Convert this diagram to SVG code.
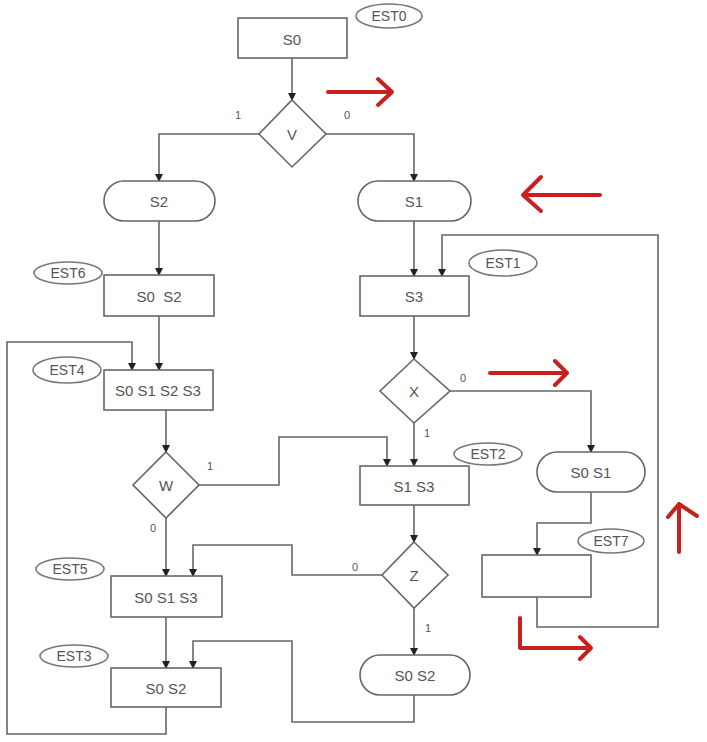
<svg xmlns="http://www.w3.org/2000/svg" width="707" height="742" viewBox="0 0 707 742">
<defs>
<marker id="ah" markerWidth="8" markerHeight="8" refX="7" refY="4" orient="auto" markerUnits="userSpaceOnUse">
<path d="M0,0 L8,4 L0,8 Z" fill="#222"/>
</marker>
<style>
.box{fill:#fff;stroke:#666;stroke-width:1.6}
.est{fill:#fff;stroke:#777;stroke-width:1.6}
.t{font-family:"Liberation Sans",Arial,sans-serif;font-size:15px;fill:#555;text-anchor:middle;dominant-baseline:central}
.e{font-family:"Liberation Sans",Arial,sans-serif;font-size:14px;fill:#555;text-anchor:middle;dominant-baseline:central}
.l{font-family:"Liberation Sans",Arial,sans-serif;font-size:11px;fill:#555;text-anchor:middle;dominant-baseline:central}
.c{fill:none;stroke:#666;stroke-width:1.6}
.a{marker-end:url(#ah)}
.r{fill:none;stroke:#c8201f;stroke-width:4;stroke-linecap:round;stroke-linejoin:round}
</style>
</defs>
<rect width="707" height="742" fill="#fff"/>
<g id="connectors">
<path class="c a" d="M292,58 V100"/>
<path class="c a" d="M259,134 H159 V181"/>
<path class="c a" d="M326,134 H414 V181"/>
<path class="c a" d="M159,221 V275"/>
<path class="c a" d="M159,316 V370"/>
<path class="c a" d="M166,707 V734 H7 V342 H132 V370"/>
<path class="c a" d="M166,410 V452"/>
<path class="c a" d="M199,485 H279 V437 H387 V466"/>
<path class="c a" d="M166,518 V576"/>
<path class="c a" d="M414,221 V276"/>
<path class="c a" d="M414,316 V359"/>
<path class="c a" d="M414,423 V466"/>
<path class="c a" d="M450,391 H591 V452"/>
<path class="c a" d="M591,492 V523 H537 V555"/>
<path class="c a" d="M537,597 V627 H658 V235 H442 V276"/>
<path class="c a" d="M414,505 V542"/>
<path class="c a" d="M382,575 H292 V545 H193 V576"/>
<path class="c a" d="M414,608 V655"/>
<path class="c a" d="M166,617 V668"/>
<path class="c a" d="M414,695 V722 H292 V641 H193 V668"/>
<text class="l" x="238" y="115">1</text>
<text class="l" x="347" y="115">0</text>
<text class="l" x="210" y="466">1</text>
<text class="l" x="153" y="528">0</text>
<text class="l" x="427" y="433">1</text>
<text class="l" x="463" y="378">0</text>
<text class="l" x="355" y="567">0</text>
<text class="l" x="428" y="628">1</text>
</g>
<g id="n_S0"><rect class="box" x="238" y="18" width="109" height="40"/><text class="t" x="292" y="39">S0</text></g>
<g id="n_EST0"><ellipse class="est" cx="389" cy="16" rx="33" ry="12"/><text class="e" x="389" y="16">EST0</text></g>
<g id="n_V"><polygon class="box" points="292,100 326,134 292,167 259,134"/><text class="t" x="292" y="134">V</text></g>
<g id="n_S2"><rect class="box" x="104" y="181" width="111" height="40" rx="20"/><text class="t" x="159" y="201">S2</text></g>
<g id="n_S1"><rect class="box" x="358" y="181" width="113" height="40" rx="20"/><text class="t" x="414" y="201">S1</text></g>
<g id="n_EST6"><ellipse class="est" cx="68" cy="273" rx="34" ry="11"/><text class="e" x="68" y="273">EST6</text></g>
<g id="n_S0S2a"><rect class="box" x="104" y="275" width="110" height="41"/><text class="t" x="159" y="296" xml:space="preserve">S0  S2</text></g>
<g id="n_EST1"><ellipse class="est" cx="503" cy="263" rx="34" ry="13"/><text class="e" x="503" y="263">EST1</text></g>
<g id="n_S3"><rect class="box" x="360" y="276" width="109" height="40"/><text class="t" x="414" y="296">S3</text></g>
<g id="n_EST4"><ellipse class="est" cx="67" cy="370" rx="34" ry="13"/><text class="e" x="67" y="370">EST4</text></g>
<g id="n_S0S1S2S3"><rect class="box" x="104" y="370" width="109" height="40"/><text class="t" x="158" y="390">S0 S1 S2 S3</text></g>
<g id="n_X"><polygon class="box" points="414,359 450,391 414,423 380,391"/><text class="t" x="414" y="391">X</text></g>
<g id="n_W"><polygon class="box" points="166,452 199,485 166,518 133,485"/><text class="t" x="166" y="485">W</text></g>
<g id="n_EST2"><ellipse class="est" cx="488" cy="454" rx="34" ry="11"/><text class="e" x="488" y="454">EST2</text></g>
<g id="n_S1S3"><rect class="box" x="360" y="466" width="109" height="39"/><text class="t" x="414" y="486">S1 S3</text></g>
<g id="n_S0S1"><rect class="box" x="537" y="452" width="108" height="40" rx="20"/><text class="t" x="591" y="472">S0 S1</text></g>
<g id="n_EST7"><ellipse class="est" cx="611" cy="541" rx="33" ry="12"/><text class="e" x="611" y="541">EST7</text></g>
<g id="n_empty"><rect class="box" x="482" y="555" width="109" height="42"/></g>
<g id="n_Z"><polygon class="box" points="414,542 448,575 414,608 382,575"/><text class="t" x="414" y="575">Z</text></g>
<g id="n_EST5"><ellipse class="est" cx="70" cy="569" rx="34" ry="11"/><text class="e" x="70" y="569">EST5</text></g>
<g id="n_S0S1S3"><rect class="box" x="111" y="576" width="111" height="41"/><text class="t" x="166" y="597">S0 S1 S3</text></g>
<g id="n_EST3"><ellipse class="est" cx="74" cy="656" rx="34" ry="11"/><text class="e" x="74" y="656">EST3</text></g>
<g id="n_S0S2b"><rect class="box" x="111" y="668" width="110" height="39"/><text class="t" x="166" y="688">S0 S2</text></g>
<g id="n_S0S2c"><rect class="box" x="360" y="655" width="110" height="40" rx="20"/><text class="t" x="415" y="675">S0 S2</text></g>
<g id="red">
<path class="r" d="M328,92 H392 M378,79 L392,92 L378,105"/>
<path class="r" d="M600,195 H523 M541,177 L523,195 L541,211"/>
<path class="r" d="M490,373 H567 M555,361 L567,373 L555,385"/>
<path class="r" d="M679,552 V504 M668,517 L679,504 L697,516"/>
<path class="r" d="M520,618 V648 H591 M580,637 L591,648 L580,659"/>
</g>
</svg>
